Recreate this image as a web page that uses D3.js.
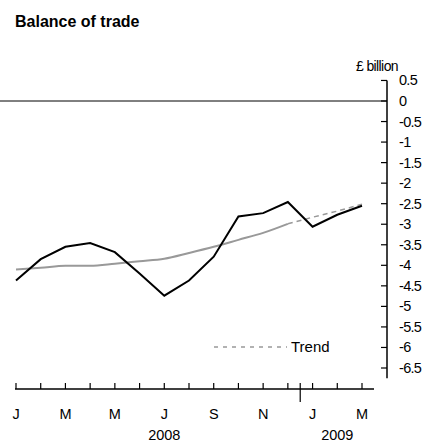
<!DOCTYPE html><html><head><meta charset="utf-8"><script src="https://cdn.jsdelivr.net/npm/d3@7"></script>
<style>body{margin:0;background:#fff}text{font-family:"Liberation Sans",Arial,sans-serif}</style></head><body><svg id="c" width="432" height="442"></svg>
<script>
const months=["J","F","M","A","M","J","J","A","S","O","N","D","J","F","M"];
const balance=[-4.37,-3.85,-3.55,-3.46,-3.68,-4.2,-4.74,-4.37,-3.79,-2.81,-2.73,-2.46,-3.06,-2.77,-2.55];
const trend=[-4.1,-4.06,-4.01,-4.01,-3.96,-3.9,-3.84,-3.7,-3.55,-3.38,-3.21,-2.99,-2.83,-2.68,-2.51];
const yTicks=[0.5,0,-0.5,-1,-1.5,-2,-2.5,-3,-3.5,-4,-4.5,-5,-5.5,-6,-6.5];
const years=[{label:"2008",i:6},{label:"2009",i:13}];
const svg=d3.select("#c");
const x=d3.scaleLinear().domain([0,14]).range([16,362]);
const y=d3.scaleLinear().domain([0,-6.5]).range([101,368]);
svg.append("text").attr("x",15).attr("y",27).attr("font-size",16).attr("font-weight","bold").text("Balance of trade");
svg.append("text").attr("x",398).attr("y",71).attr("font-size",14).attr("text-anchor","end").attr("letter-spacing",-0.6).text("£ billion");
const ax=387;
svg.append("line").attr("x1",ax).attr("x2",ax).attr("y1",y(0.5)).attr("y2",y(-6.75)).attr("stroke","#000").attr("stroke-width",1.5);
yTicks.forEach(v=>{svg.append("line").attr("x1",ax-6).attr("x2",ax).attr("y1",y(v)).attr("y2",y(v)).attr("stroke","#000").attr("stroke-width",1.2);
svg.append("text").attr("x",ax+12).attr("y",y(v)+5).attr("font-size",14.5).attr("letter-spacing",-0.7).text(String(v));});
svg.append("line").attr("x1",0).attr("x2",ax).attr("y1",y(0)).attr("y2",y(0)).attr("stroke","#000").attr("stroke-width",1);
const by=389;
svg.append("line").attr("x1",15).attr("x2",374).attr("y1",by).attr("y2",by).attr("stroke","#000").attr("stroke-width",1.5);
months.forEach((m,i)=>{svg.append("line").attr("x1",x(i)).attr("x2",x(i)).attr("y1",by-6).attr("y2",by).attr("stroke","#000").attr("stroke-width",1.2);
if(i%2===0)svg.append("text").attr("x",x(i)).attr("y",419).attr("font-size",14.5).attr("text-anchor","middle").text(m);});
svg.append("line").attr("x1",x(11.5)).attr("x2",x(11.5)).attr("y1",by-6).attr("y2",by+13).attr("stroke","#000").attr("stroke-width",1.2);
years.forEach(d=>svg.append("text").attr("x",x(d.i)).attr("y",440).attr("font-size",14.5).attr("text-anchor","middle").text(d.label));
const line=d3.line().x((d,i)=>x(i)).y(d=>y(d));
const lineC=d3.line().x(d=>x(d[0])).y(d=>y(d[1])).curve(d3.curveMonotoneX);
const tp=trend.map((v,i)=>[i,v]);
svg.append("path").attr("d",lineC(tp.slice(0,12))).attr("fill","none").attr("stroke","#999").attr("stroke-width",2);
svg.append("path").attr("d",lineC(tp.slice(11))).attr("fill","none").attr("stroke","#999").attr("stroke-width",1.5).attr("stroke-dasharray","5,4");
svg.append("path").attr("d",line(balance)).attr("fill","none").attr("stroke","#000").attr("stroke-width",2);
svg.append("line").attr("x1",214).attr("x2",287).attr("y1",347).attr("y2",347).attr("stroke","#999").attr("stroke-width",1.5).attr("stroke-dasharray","4,5");
svg.append("text").attr("x",291).attr("y",352).attr("font-size",15).text("Trend");
</script></body></html>
